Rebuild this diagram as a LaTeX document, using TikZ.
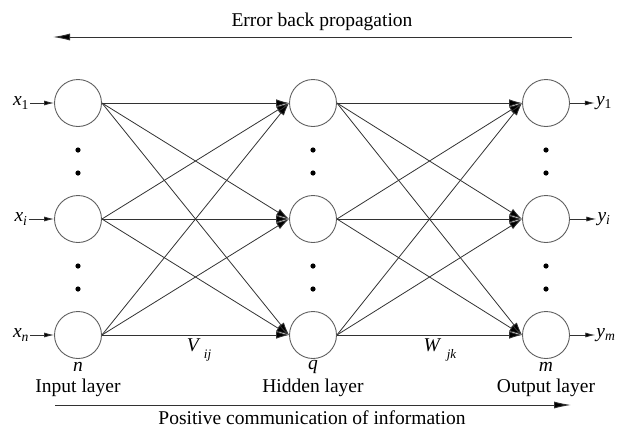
\documentclass[tikz,border=0pt]{standalone}
\usepackage{fontspec}
\setmainfont{LiberationSerif}[Extension=.ttf, UprightFont=*-Regular, ItalicFont=*-Italic, BoldFont=*-Bold]
\usepackage{tikz}
\usetikzlibrary{arrows.meta, positioning}
\definecolor{linegray}{RGB}{50, 50, 50}
\definecolor{circlegray}{RGB}{95, 95, 95}
\newcommand{\var}[2]{\textit{#1}\textsubscript{\textit{#2}}}

\begin{document}
\begin{tikzpicture}[
    x=1pt, y=-1pt,
    every node/.style={font=\fontsize{19.5pt}{23pt}\selectfont},
    neuron/.style={circle, draw=circlegray, line width=0.9pt, minimum size=47pt, inner sep=0pt},
    lbl/.style={inner sep=1pt},
    link/.style={-{Latex[length=13pt, width=7.5pt, fill=black]}, draw=linegray, line width=0.8pt},
    ioarrow/.style={-{Latex[length=10pt, width=5pt, fill=black]}, draw=linegray, line width=0.8pt},
    flow/.style={-{Latex[length=17pt, width=7pt, fill=black]}, draw=linegray, line width=0.9pt}
]
    \useasboundingbox (0,0) rectangle (619,429);

    % three layers of neurons
    \foreach \k/\y in {1/103, 2/219, 3/335} {
        \node[neuron] (in\k) at (78,\y) {};
        \node[neuron] (h\k) at (313,\y) {};
        \node[neuron] (o\k) at (546,\y) {};
    }
    \foreach \xx in {78, 313, 546}
        \foreach \yy in {150, 173, 266, 289}
            \fill (\xx,\yy) circle (2.6);

    % full connections
    \foreach \a in {1,2,3}
        \foreach \b in {1,2,3} {
            \draw[link] (in\a.east) -- (h\b.west);
            \draw[link] (h\a.east) -- (o\b.west);
        }

    % inputs and outputs
    \node[lbl] (x1) at (21,103) {\textit{x}\textsubscript{1}};
    \node[lbl] (xi) at (21,219) {\var{x}{i}};
    \node[lbl] (xn) at (21,335) {\var{x}{n}};
    \node[lbl] (y1) at (604,103) {\textit{y}\textsubscript{1}};
    \node[lbl] (yi) at (604,219) {\var{y}{i}};
    \node[lbl] (ym) at (606,335) {\var{y}{m}};
    \draw[ioarrow] (x1) -- (in1);
    \draw[ioarrow] (xi) -- (in2);
    \draw[ioarrow] (xn) -- (in3);
    \draw[ioarrow] (o1) -- (y1);
    \draw[ioarrow] (o2) -- (yi);
    \draw[ioarrow] (o3) -- (ym);

    % weights and layer names
    \node (vij) at (199,350) {\textit{V}\,\raisebox{-7pt}{\fontsize{13pt}{13pt}\selectfont\textit{ij}}};
    \node (wjk) at (440,350) {\textit{W}\;\raisebox{-7pt}{\fontsize{13pt}{13pt}\selectfont\textit{jk}}};
    \node (nn) at (78,367) {\textit{n}};
    \node (qq) at (313,367) {\textit{q}};
    \node (mm) at (546,367) {\textit{m}};
    \node (inlayer) at (78,388) {Input layer};
    \node (hidlayer) at (313,388) {Hidden layer};
    \node (outlayer) at (546,388) {Output layer};

    % propagation directions
    \node (back) at (322,22) {Error back propagation};
    \coordinate (backR) at (572,37);
    \coordinate (backL) at (53,37);
    \draw[flow] (backR) -- (backL);
    \coordinate (fwdL) at (55,405);
    \coordinate (fwdR) at (571,405);
    \draw[flow] (fwdL) -- (fwdR);
    \node (fwd) at (312,418) {Positive communication of information};
\end{tikzpicture}
\end{document}
